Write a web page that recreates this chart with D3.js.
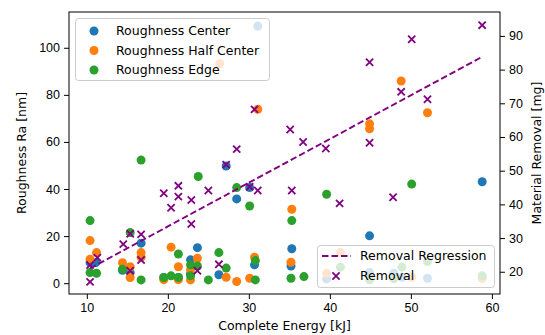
<!DOCTYPE html>
<html>
<head>
<meta charset="utf-8">
<script src="https://cdn.jsdelivr.net/npm/d3@7"></script>
<style>
  body { margin: 0; background: #fff; }
  svg { display: block; font-family: "DejaVu Sans", sans-serif; }
</style>
</head>
<body>
<div id="chart"></div>
<script>
// energy [kJ] / roughness [nm] pairs
const centerData = [
  [10.4, 8.7], [11.1, 8.7], [14.4, 5.5], [15.35, 4.5], [16.7, 17.0], [19.5, 2.4],
  [21.3, 2.4], [22.8, 9.9], [22.8, 4.0], [23.65, 15.1], [26.3, 3.6], [27.2, 49.8],
  [28.5, 35.8], [30.1, 40.6], [30.7, 7.8], [31.1, 109.2], [35.3, 14.6], [35.2, 7.3],
  [39.6, 1.8], [44.9, 20.1], [44.9, 4.5], [47.9, 4.2], [48.9, 2.5], [52.05, 2.1],
  [58.8, 43.1]
];
const halfData = [
  [10.4, 18.1], [10.4, 10.2], [11.2, 13.0], [14.4, 8.7], [15.35, 7.0], [15.35, 2.4],
  [16.7, 13.0], [16.7, 11.0], [19.5, 1.5], [20.4, 15.3], [21.3, 7.0], [21.3, 1.5],
  [22.8, 5.7], [22.8, 1.4], [23.65, 10.6], [26.4, 93.2], [27.2, 2.5], [28.5, 0.7],
  [30.1, 2.1], [30.7, 11.0], [31.1, 73.9], [35.3, 31.4], [35.2, 8.9], [39.6, 4.2],
  [41.3, 13.0], [44.9, 67.7], [44.9, 65.6], [48.8, 85.9], [50.1, 2.5], [52.05, 72.4],
  [58.8, 2.0]
];
const edgeData = [
  [10.4, 26.6], [10.4, 4.5], [11.2, 4.2], [14.4, 5.9], [15.35, 21.5], [16.7, 52.3],
  [16.7, 1.4], [19.5, 2.4], [20.4, 3.1], [21.3, 12.4], [21.3, 2.4], [22.8, 7.8],
  [22.8, 3.1], [23.65, 7.3], [23.75, 45.3], [25.0, 1.4], [26.3, 13.0], [27.2, 6.4],
  [28.5, 40.6], [30.1, 32.8], [30.8, 9.6], [30.8, 1.4], [35.3, 26.6], [35.2, 2.1],
  [36.8, 2.8], [39.6, 37.8], [41.3, 6.8], [44.9, 1.4], [47.9, 1.9], [48.9, 6.8],
  [50.1, 42.1], [52.05, 9.2], [58.8, 3.1]
];
// energy [kJ] / material removal [mg]
const removalData = [
  [10.4, 17.0], [10.4, 22.0], [11.3, 24.2], [14.5, 28.2], [15.35, 31.3], [15.35, 20.3],
  [16.7, 31.1], [16.7, 23.5], [19.5, 43.3], [20.4, 39.0], [21.3, 45.5], [21.3, 42.3],
  [22.9, 41.3], [22.9, 34.2], [23.65, 20.3], [25.0, 44.1], [26.3, 22.2], [27.2, 51.8],
  [28.5, 56.4], [30.1, 45.2], [30.7, 68.2], [31.1, 44.1], [35.1, 62.2], [35.3, 44.1],
  [36.7, 58.5], [39.5, 56.6], [41.2, 40.3], [44.9, 82.2], [44.9, 58.3], [47.8, 42.1],
  [48.8, 73.4], [50.1, 89.0], [52.05, 71.2], [58.8, 93.2]
];
// regression line end points
const regressionData = [[10.4, 21.0], [58.8, 83.8]];

const xTicks = [10, 20, 30, 40, 50, 60];
const leftTicks = [0, 20, 40, 60, 80, 100];
const rightTicks = [20, 30, 40, 50, 60, 70, 80, 90];
const xLimits = [7.8, 61.0];
const leftLimits = [-4.6, 115.2];
const rightLimits = [13.4, 97.1];

const W = 545, H = 335;
const plot = { left: 69, right: 500, top: 12, bottom: 294 };
const fontSize = 12.5;

const svg = d3.select('#chart').append('svg')
  .attr('width', W).attr('height', H);

const x = d3.scaleLinear().domain(xLimits).range([plot.left, plot.right]);
const yL = d3.scaleLinear().domain(leftLimits).range([plot.bottom, plot.top]);
const yR = d3.scaleLinear().domain(rightLimits).range([plot.bottom, plot.top]);

function styleAxis(g) {
  g.selectAll('.domain').remove();
  g.selectAll('line').attr('stroke', '#000').attr('stroke-width', 1);
  g.selectAll('text').attr('fill', '#000').style('font-size', fontSize + 'px');
}

// axes
svg.append('g')
  .attr('transform', `translate(0,${plot.bottom})`)
  .call(d3.axisBottom(x).tickValues(xTicks).tickSize(5).tickPadding(4))
  .call(styleAxis);

svg.append('g')
  .attr('transform', `translate(${plot.left},0)`)
  .call(d3.axisLeft(yL).tickValues(leftTicks).tickSize(5).tickPadding(4))
  .call(styleAxis);

svg.append('g')
  .attr('transform', `translate(${plot.right},0)`)
  .call(d3.axisRight(yR).tickValues(rightTicks).tickSize(5).tickPadding(4))
  .call(styleAxis);

// roughness points
const series = [
  { name: 'Roughness Center', data: centerData, color: '#1f77b4' },
  { name: 'Roughness Half Center', data: halfData, color: '#ff7f0e' },
  { name: 'Roughness Edge', data: edgeData, color: '#2ca02c' }
];
svg.append('clipPath').attr('id', 'clip').append('rect')
  .attr('x', plot.left).attr('y', plot.top)
  .attr('width', plot.right - plot.left).attr('height', plot.bottom - plot.top);

const pts = svg.append('g').attr('clip-path', 'url(#clip)');
series.forEach(s => {
  pts.selectAll(null)
    .data(s.data)
    .enter().append('circle')
    .attr('cx', d => x(d[0]))
    .attr('cy', d => yL(d[1]))
    .attr('r', 4.5)
    .attr('fill', s.color);
});

// legend 1 (upper left)
const leg1 = svg.append('g');
leg1.append('rect')
  .attr('x', 75.5).attr('y', 18.5).attr('width', 194).attr('height', 62)
  .attr('rx', 3)
  .attr('fill', '#fff').attr('fill-opacity', 0.8)
  .attr('stroke', '#ccc');
series.forEach((s, i) => {
  const cy = 31 + i * 19.5;
  leg1.append('circle').attr('cx', 94).attr('cy', cy).attr('r', 4.5).attr('fill', s.color);
  leg1.append('text').attr('x', 116).attr('y', cy).attr('dy', '0.35em')
    .style('font-size', fontSize + 'px').text(s.name);
});

// regression line
const line = d3.line().x(d => x(d[0])).y(d => yR(d[1]));
svg.append('path')
  .datum(regressionData)
  .attr('d', line)
  .attr('fill', 'none')
  .attr('stroke', '#800080')
  .attr('stroke-width', 1.9)
  .attr('stroke-dasharray', '6.5,3');

// removal crosses
const xSize = 3.6;
function cross(g, cx, cy) {
  g.append('path')
    .attr('d', `M${cx - xSize},${cy - xSize}L${cx + xSize},${cy + xSize}M${cx - xSize},${cy + xSize}L${cx + xSize},${cy - xSize}`)
    .attr('stroke', '#800080')
    .attr('stroke-width', 1.8)
    .attr('fill', 'none');
}
const crosses = svg.append('g').attr('clip-path', 'url(#clip)');
removalData.forEach(d => cross(crosses, x(d[0]), yR(d[1])));

// legend 2 (lower right)
const leg2 = svg.append('g');
leg2.append('rect')
  .attr('x', 317.5).attr('y', 245.5).attr('width', 177).attr('height', 42)
  .attr('rx', 3)
  .attr('fill', '#fff').attr('fill-opacity', 0.8)
  .attr('stroke', '#ccc');
leg2.append('line')
  .attr('x1', 322).attr('x2', 351).attr('y1', 256).attr('y2', 256)
  .attr('stroke', '#800080').attr('stroke-width', 1.9).attr('stroke-dasharray', '6.5,3');
leg2.append('text').attr('x', 360).attr('y', 256).attr('dy', '0.35em')
  .style('font-size', fontSize + 'px').text('Removal Regression');
cross(leg2, 336, 276);
leg2.append('text').attr('x', 360).attr('y', 276).attr('dy', '0.35em')
  .style('font-size', fontSize + 'px').text('Removal');

// frame
svg.append('rect')
  .attr('x', plot.left).attr('y', plot.top)
  .attr('width', plot.right - plot.left).attr('height', plot.bottom - plot.top)
  .attr('fill', 'none').attr('stroke', '#000').attr('stroke-width', 1);

// axis titles
svg.append('text')
  .attr('x', (plot.left + plot.right) / 2).attr('y', 326).attr('dy', '0.35em')
  .attr('text-anchor', 'middle').style('font-size', fontSize + 'px')
  .text('Complete Energy [kJ]');
svg.append('text')
  .attr('transform', `translate(22,${(plot.top + plot.bottom) / 2}) rotate(-90)`)
  .attr('dy', '0.35em')
  .attr('text-anchor', 'middle').style('font-size', fontSize + 'px')
  .text('Roughness Ra [nm]');
svg.append('text')
  .attr('transform', `translate(537,${(plot.top + plot.bottom) / 2}) rotate(-90)`)
  .attr('dy', '0.35em')
  .attr('text-anchor', 'middle').style('font-size', fontSize + 'px')
  .text('Material Removal [mg]');
</script>
</body>
</html>
